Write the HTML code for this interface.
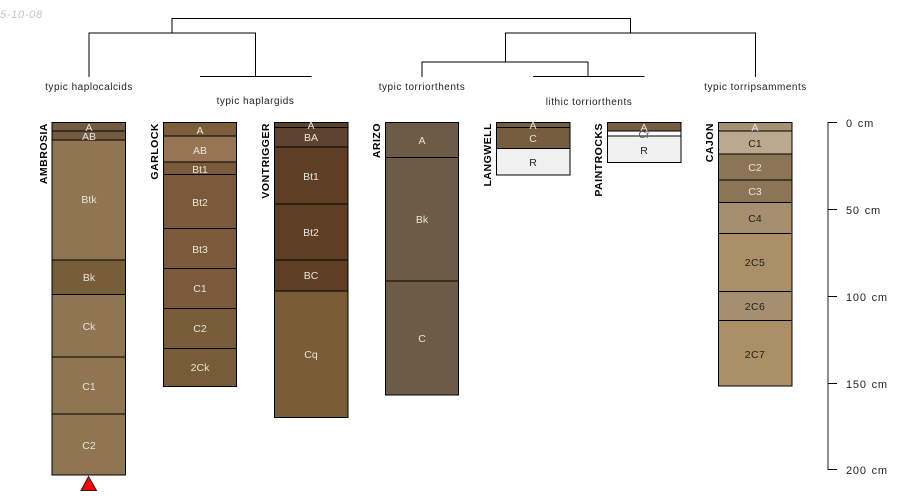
<!DOCTYPE html>
<html>
<head>
<meta charset="utf-8">
<style>
html,body{margin:0;padding:0;background:#fff;width:900px;height:500px;overflow:hidden}
svg{display:block}
text{font-family:"Liberation Sans",sans-serif}
.t{font-size:10px;text-anchor:middle;fill:#222;letter-spacing:.52px}
.h{font-size:10.5px;text-anchor:middle;fill:#e9e4da}
.k{font-size:10.5px;text-anchor:middle;fill:#1e1e1e}
.n{font-size:10.5px;font-weight:bold;fill:#000;text-anchor:end;letter-spacing:.5px}
.s{font-size:11px;fill:#222;letter-spacing:.8px;word-spacing:1px}
</style>
</head>
<body>
<svg width="900" height="500" viewBox="0 0 900 500" xmlns="http://www.w3.org/2000/svg">
<text x="0" y="18" font-size="11" font-style="italic" fill="#c4c4c4" letter-spacing=".7">5-10-08</text>

<g fill="none" stroke="#000" stroke-width="1">
<path d="M172 33V18.500H630.500V33"/>
<path d="M89 77V33H255.500V76.500"/>
<path d="M200 76.500H311.500"/>
<path d="M505.500 62V33H755.500V77"/>
<path d="M422 77V62H588V76"/>
<path d="M533 76.500H644.500"/>
</g>
<text class="t" x="89" y="90">typic haplocalcids</text>
<text class="t" x="255.500" y="104">typic haplargids</text>
<text class="t" x="422" y="90">typic torriorthents</text>
<text class="t" x="589" y="105">lithic torriorthents</text>
<text class="t" x="755.500" y="90">typic torripsamments</text>

<!-- AMBROSIA -->
<g stroke="#000" stroke-width="1">
<rect x="52" y="122.500" width="73.500" height="8.500" fill="#725b41"/>
<rect x="52" y="131" width="73.500" height="9" fill="#725b41"/>
<rect x="52" y="140" width="73.500" height="120" fill="#8f7552"/>
<rect x="52" y="260" width="73.500" height="34.500" fill="#785d39"/>
<rect x="52" y="294.500" width="73.500" height="62.500" fill="#8f7552"/>
<rect x="52" y="357" width="73.500" height="57" fill="#8f7552"/>
<rect x="52" y="414" width="73.500" height="61" fill="#8f7552"/>
</g>
<text class="h" x="89" y="131">A</text>
<text class="h" x="89" y="140">AB</text>
<text class="h" x="89" y="203">Btk</text>
<text class="h" x="89" y="281">Bk</text>
<text class="h" x="89" y="330">Ck</text>
<text class="h" x="89" y="390">C1</text>
<text class="h" x="89" y="449">C2</text>
<text class="n" transform="translate(47 123) rotate(-90)">AMBROSIA</text>
<polygon points="88.500,476.500 96.500,490.500 81,490.500" fill="#f00" stroke="#222" stroke-width="1"/>

<!-- GARLOCK -->
<g stroke="#000" stroke-width="1">
<rect x="163.500" y="122.500" width="73" height="13.500" fill="#7c5f39"/>
<rect x="163.500" y="136" width="73" height="26" fill="#967454"/>
<rect x="163.500" y="162" width="73" height="12.500" fill="#7b5a3b"/>
<rect x="163.500" y="174.500" width="73" height="54" fill="#7b5a3b"/>
<rect x="163.500" y="228.500" width="73" height="40" fill="#7b5a3b"/>
<rect x="163.500" y="268.500" width="73" height="40" fill="#7b5a3b"/>
<rect x="163.500" y="308.500" width="73" height="40" fill="#775c37"/>
<rect x="163.500" y="348.500" width="73" height="38" fill="#775c37"/>
</g>
<text class="h" x="200" y="134">A</text>
<text class="h" x="200" y="154">AB</text>
<text class="h" x="200" y="173">Bt1</text>
<text class="h" x="200" y="206">Bt2</text>
<text class="h" x="200" y="253">Bt3</text>
<text class="h" x="200" y="292">C1</text>
<text class="h" x="200" y="332">C2</text>
<text class="h" x="200" y="371">2Ck</text>
<text class="n" transform="translate(158 123) rotate(-90)">GARLOCK</text>

<!-- VONTRIGGER -->
<g stroke="#000" stroke-width="1">
<rect x="274.500" y="122.500" width="73.500" height="5" fill="#5c4229"/>
<rect x="274.500" y="127.500" width="73.500" height="19.500" fill="#5c4430"/>
<rect x="274.500" y="147" width="73.500" height="57" fill="#5e3f25"/>
<rect x="274.500" y="204" width="73.500" height="56" fill="#5e3f25"/>
<rect x="274.500" y="260" width="73.500" height="31" fill="#5e3f25"/>
<rect x="274.500" y="291" width="73.500" height="126.500" fill="#7a5c36"/>
</g>
<text class="h" x="311" y="129">A</text>
<text class="h" x="311" y="141">BA</text>
<text class="h" x="311" y="180">Bt1</text>
<text class="h" x="311" y="236">Bt2</text>
<text class="h" x="311" y="279">BC</text>
<text class="h" x="311" y="358">Cq</text>
<text class="n" transform="translate(269 123) rotate(-90)">VONTRIGGER</text>

<!-- ARIZO -->
<g stroke="#000" stroke-width="1">
<rect x="385.500" y="122.500" width="73" height="35" fill="#6e5b47"/>
<rect x="385.500" y="157.500" width="73" height="123.500" fill="#6e5b47"/>
<rect x="385.500" y="281" width="73" height="114" fill="#6e5b47"/>
</g>
<text class="h" x="422" y="144">A</text>
<text class="h" x="422" y="223">Bk</text>
<text class="h" x="422" y="342">C</text>
<text class="n" transform="translate(380 123) rotate(-90)">ARIZO</text>

<!-- LANGWELL -->
<g stroke="#000" stroke-width="1">
<rect x="496.500" y="122.500" width="73.500" height="5" fill="#775d40"/>
<rect x="496.500" y="127.500" width="73.500" height="21" fill="#775d40"/>
<rect x="496.500" y="148.500" width="73.500" height="26.500" fill="#f0f0f0"/>
</g>
<text class="h" x="533" y="129">A</text>
<text class="h" x="533" y="142">C</text>
<text class="k" x="533" y="166">R</text>
<text class="n" transform="translate(491 123) rotate(-90)">LANGWELL</text>

<!-- PAINTROCKS -->
<g stroke="#000" stroke-width="1">
<rect x="607.500" y="122.500" width="73.500" height="8.500" fill="#775d40"/>
<rect x="607.500" y="131" width="73.500" height="5" fill="#fafafa"/>
<rect x="607.500" y="136" width="73.500" height="26.500" fill="#f0f0f0"/>
</g>
<text class="h" x="644" y="131">A</text>
<text class="k" x="644" y="138" style="fill:#555">Cr</text>
<text class="k" x="644" y="154">R</text>
<text class="n" transform="translate(602 123) rotate(-90)">PAINTROCKS</text>

<!-- CAJON -->
<g stroke="#000" stroke-width="1">
<rect x="718.500" y="122.500" width="73.500" height="8.500" fill="#a59074"/>
<rect x="718.500" y="131" width="73.500" height="23" fill="#bba98f"/>
<rect x="718.500" y="154" width="73.500" height="26" fill="#8c7557"/>
<rect x="718.500" y="180" width="73.500" height="22.500" fill="#8c7557"/>
<rect x="718.500" y="202.500" width="73.500" height="31" fill="#a68f6f"/>
<rect x="718.500" y="233.500" width="73.500" height="58" fill="#ab8f67"/>
<rect x="718.500" y="291.500" width="73.500" height="29" fill="#a68f6f"/>
<rect x="718.500" y="320.500" width="73.500" height="65.500" fill="#ab8f67"/>
</g>
<text class="h" x="755" y="131">A</text>
<text class="k" x="755" y="147">C1</text>
<text class="h" x="755" y="171">C2</text>
<text class="h" x="755" y="195">C3</text>
<text class="k" x="755" y="222">C4</text>
<text class="k" x="755" y="266" style="letter-spacing:.4px">2C5</text>
<text class="k" x="755" y="310" style="letter-spacing:.4px">2C6</text>
<text class="k" x="755" y="358" style="letter-spacing:.4px">2C7</text>
<text class="n" transform="translate(713 123) rotate(-90)">CAJON</text>

<!-- scale -->
<g fill="none" stroke="#000" stroke-width="1">
<path d="M828 122V470" stroke="#333" stroke-width="1.100"/>
<path d="M828 122.500H837M828 209.500H837M828 296.500H837M828 383.500H837M828 469.500H837"/>
</g>
<text class="s" x="846" y="127">0 cm</text>
<text class="s" x="846" y="214">50 cm</text>
<text class="s" x="846" y="301">100 cm</text>
<text class="s" x="846" y="388">150 cm</text>
<text class="s" x="846" y="474">200 cm</text>
</svg>
</body>
</html>
